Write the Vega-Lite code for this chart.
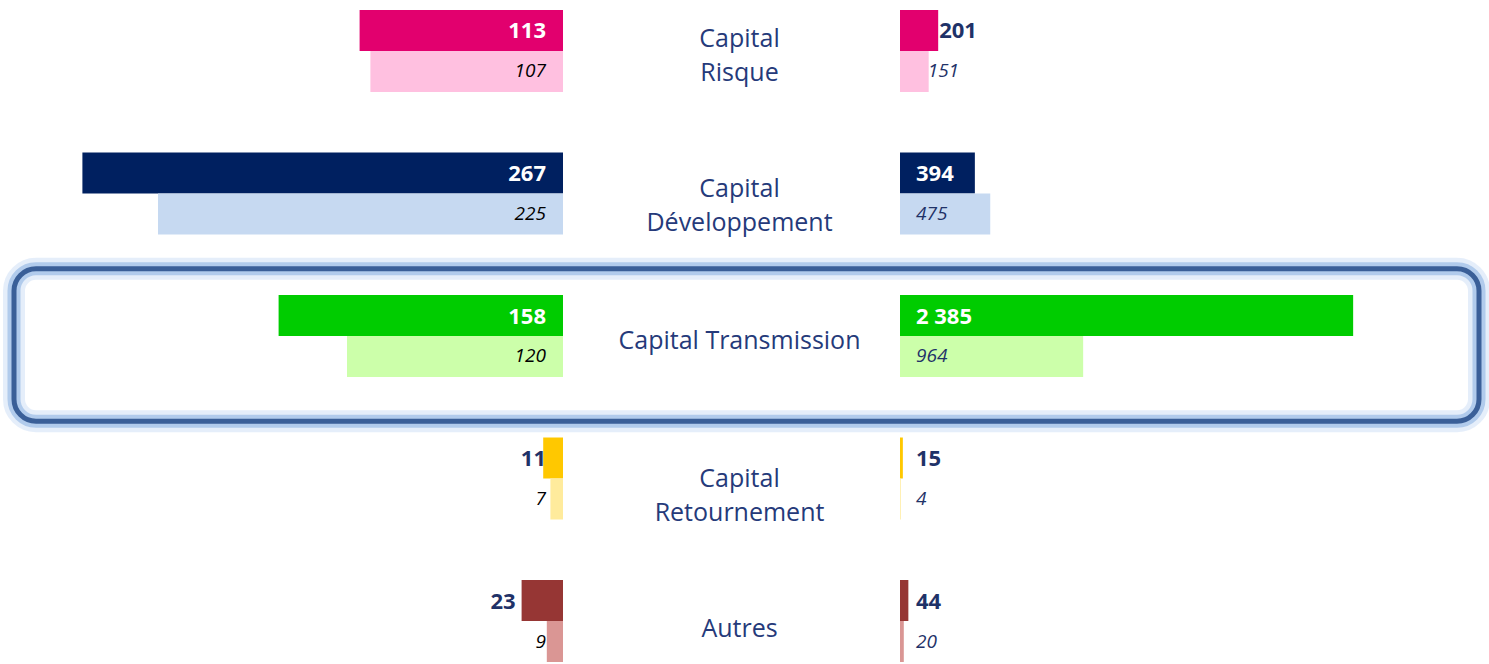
{
  "$schema": "https://vega.github.io/schema/vega-lite/v6.json",
  "width": 1465,
  "height": 652,
  "padding": {"left": 14, "right": 10, "top": 10, "bottom": 2},
  "autosize": {"type": "none"},
  "background": "white",
  "config": {
    "view": {"stroke": null},
    "font": "Open Sans",
    "locale": {"number": {"decimal": ",", "thousands": "\u00a0", "grouping": [3], "currency": ["", "\u00a0€"]}}
  },
  "data": {
    "values": [
      {"cat": "Capital Risque", "period": "N", "left": 113, "right": 201},
      {"cat": "Capital Risque", "period": "N-1", "left": 107, "right": 151},
      {"cat": "Capital Développement", "period": "N", "left": 267, "right": 394},
      {"cat": "Capital Développement", "period": "N-1", "left": 225, "right": 475},
      {"cat": "Capital Transmission", "period": "N", "left": 158, "right": 2385},
      {"cat": "Capital Transmission", "period": "N-1", "left": 120, "right": 964},
      {"cat": "Capital Retournement", "period": "N", "left": 11, "right": 15},
      {"cat": "Capital Retournement", "period": "N-1", "left": 7, "right": 4},
      {"cat": "Autres", "period": "N", "left": 23, "right": 44},
      {"cat": "Autres", "period": "N-1", "left": 9, "right": 20}
    ]
  },
  "encoding": {
    "y": {"field": "cat", "type": "nominal", "sort": ["Capital Risque", "Capital Développement", "Capital Transmission", "Capital Retournement", "Autres"], "axis": null, "scale": {"domain": ["Capital Risque", "Capital Développement", "Capital Transmission", "Capital Retournement", "Autres"], "paddingInner": 0.4246, "paddingOuter": 0}}
  },
  "layer": [
    {
      "transform": [{"filter": "datum.cat === 'Capital Transmission' && datum.period === 'N'"}],
      "mark": {"type": "rect", "height": {"band": 1.86}, "yOffset": 9, "cornerRadius": 22, "filled": false, "stroke": "#A9C8EE", "strokeWidth": 22, "strokeOpacity": 0.3},
      "encoding": {}
    },
    {
      "transform": [{"filter": "datum.cat === 'Capital Transmission' && datum.period === 'N'"}],
      "mark": {"type": "rect", "height": {"band": 1.86}, "yOffset": 9, "cornerRadius": 22, "filled": false, "stroke": "#8DB4E2", "strokeWidth": 13, "strokeOpacity": 0.6},
      "encoding": {}
    },
    {
      "transform": [{"filter": "datum.cat === 'Capital Transmission' && datum.period === 'N'"}],
      "mark": {"type": "rect", "height": {"band": 1.86}, "yOffset": 9, "cornerRadius": 22, "filled": false, "stroke": "#3A5F98", "strokeWidth": 5},
      "encoding": {}
    },
    {
      "transform": [{"filter": "datum.period === 'N'"}],
      "mark": {"type": "bar"},
      "encoding": {
        "yOffset": {"field": "period", "type": "nominal", "sort": ["N", "N-1"], "scale": {"domain": ["N", "N-1"], "paddingInner": 0}},
        "x": {"field": "left", "type": "quantitative", "scale": {"domain": [0, 100], "range": [549, 369]}, "axis": null},
        "x2": {"datum": 0},
        "color": {"field": "cat", "type": "nominal", "legend": null, "scale": {"domain": ["Capital Risque", "Capital Développement", "Capital Transmission", "Capital Retournement", "Autres"], "range": ["#E2006E", "#002060", "#00CC00", "#FFC800", "#963634"]}}
      }
    },
    {
      "transform": [{"filter": "datum.period === 'N-1'"}],
      "mark": {"type": "bar"},
      "encoding": {
        "yOffset": {"field": "period", "type": "nominal", "sort": ["N", "N-1"], "scale": {"domain": ["N", "N-1"], "paddingInner": 0}},
        "x": {"field": "left", "type": "quantitative", "scale": {"domain": [0, 100], "range": [549, 369]}, "axis": null},
        "x2": {"datum": 0},
        "color": {"field": "cat", "type": "nominal", "legend": null, "scale": {"domain": ["Capital Risque", "Capital Développement", "Capital Transmission", "Capital Retournement", "Autres"], "range": ["#FFC0E0", "#C6D9F1", "#CCFFAA", "#FFEB9C", "#DA9694"]}}
      }
    },
    {
      "transform": [{"filter": "datum.period === 'N'"}],
      "mark": {"type": "bar"},
      "encoding": {
        "yOffset": {"field": "period", "type": "nominal", "sort": ["N", "N-1"], "scale": {"domain": ["N", "N-1"], "paddingInner": 0}},
        "x": {"field": "right", "type": "quantitative", "scale": {"domain": [0, 1000], "range": [886, 1076]}, "axis": null},
        "x2": {"datum": 0},
        "color": {"field": "cat", "type": "nominal", "legend": null, "scale": {"domain": ["Capital Risque", "Capital Développement", "Capital Transmission", "Capital Retournement", "Autres"], "range": ["#E2006E", "#002060", "#00CC00", "#FFC800", "#963634"]}}
      }
    },
    {
      "transform": [{"filter": "datum.period === 'N-1'"}],
      "mark": {"type": "bar"},
      "encoding": {
        "yOffset": {"field": "period", "type": "nominal", "sort": ["N", "N-1"], "scale": {"domain": ["N", "N-1"], "paddingInner": 0}},
        "x": {"field": "right", "type": "quantitative", "scale": {"domain": [0, 1000], "range": [886, 1076]}, "axis": null},
        "x2": {"datum": 0},
        "color": {"field": "cat", "type": "nominal", "legend": null, "scale": {"domain": ["Capital Risque", "Capital Développement", "Capital Transmission", "Capital Retournement", "Autres"], "range": ["#FFC0E0", "#C6D9F1", "#CCFFAA", "#FFEB9C", "#DA9694"]}}
      }
    },
    {
      "transform": [{"filter": "datum.period === 'N' && datum.cat !== 'Autres'"}],
      "mark": {"type": "text", "align": "right", "baseline": "middle", "dx": -17, "dy": 1, "fontSize": 22, "fontWeight": "bold"},
      "encoding": {
        "yOffset": {"field": "period", "type": "nominal", "sort": ["N", "N-1"], "scale": {"domain": ["N", "N-1"], "paddingInner": 0}},
        "x": {"datum": 0, "type": "quantitative", "scale": {"domain": [0, 100], "range": [549, 369]}, "axis": null},
        "text": {"field": "left", "type": "quantitative", "format": ",d"},
        "color": {"condition": {"test": "datum.left >= 50", "value": "#FFFFFF"}, "value": "#1F3268"}
      }
    },
    {
      "transform": [{"filter": "datum.period === 'N' && datum.cat === 'Autres'"}],
      "mark": {"type": "text", "align": "right", "baseline": "middle", "dx": -6, "dy": 1, "fontSize": 22, "fontWeight": "bold", "color": "#1F3268"},
      "encoding": {
        "yOffset": {"field": "period", "type": "nominal", "sort": ["N", "N-1"], "scale": {"domain": ["N", "N-1"], "paddingInner": 0}},
        "x": {"field": "left", "type": "quantitative", "scale": {"domain": [0, 100], "range": [549, 369]}, "axis": null},
        "text": {"field": "left", "type": "quantitative", "format": ",d"}
      }
    },
    {
      "transform": [{"filter": "datum.period === 'N-1'"}],
      "mark": {"type": "text", "align": "right", "baseline": "middle", "dx": -17, "fontSize": 19, "fontStyle": "italic", "color": "#000000"},
      "encoding": {
        "yOffset": {"field": "period", "type": "nominal", "sort": ["N", "N-1"], "scale": {"domain": ["N", "N-1"], "paddingInner": 0}},
        "x": {"datum": 0, "type": "quantitative", "scale": {"domain": [0, 100], "range": [549, 369]}, "axis": null},
        "text": {"field": "left", "type": "quantitative", "format": ",d"}
      }
    },
    {
      "transform": [{"filter": "datum.period === 'N' && datum.cat !== 'Capital Risque'"}],
      "mark": {"type": "text", "align": "left", "baseline": "middle", "dx": 16, "dy": 1, "fontSize": 22, "fontWeight": "bold"},
      "encoding": {
        "yOffset": {"field": "period", "type": "nominal", "sort": ["N", "N-1"], "scale": {"domain": ["N", "N-1"], "paddingInner": 0}},
        "x": {"datum": 0, "type": "quantitative", "scale": {"domain": [0, 1000], "range": [886, 1076]}, "axis": null},
        "text": {"field": "right", "type": "quantitative", "format": ",d"},
        "color": {"condition": {"test": "datum.right >= 300", "value": "#FFFFFF"}, "value": "#1F3268"}
      }
    },
    {
      "transform": [{"filter": "datum.period === 'N' && datum.cat === 'Capital Risque'"}],
      "mark": {"type": "text", "align": "left", "baseline": "middle", "dx": 1, "dy": 1, "fontSize": 22, "fontWeight": "bold", "color": "#1F3268"},
      "encoding": {
        "yOffset": {"field": "period", "type": "nominal", "sort": ["N", "N-1"], "scale": {"domain": ["N", "N-1"], "paddingInner": 0}},
        "x": {"field": "right", "type": "quantitative", "scale": {"domain": [0, 1000], "range": [886, 1076]}, "axis": null},
        "text": {"field": "right", "type": "quantitative", "format": ",d"}
      }
    },
    {
      "transform": [{"filter": "datum.period === 'N-1' && datum.cat !== 'Capital Risque'"}],
      "mark": {"type": "text", "align": "left", "baseline": "middle", "dx": 16, "fontSize": 19, "fontStyle": "italic", "color": "#1F3268"},
      "encoding": {
        "yOffset": {"field": "period", "type": "nominal", "sort": ["N", "N-1"], "scale": {"domain": ["N", "N-1"], "paddingInner": 0}},
        "x": {"datum": 0, "type": "quantitative", "scale": {"domain": [0, 1000], "range": [886, 1076]}, "axis": null},
        "text": {"field": "right", "type": "quantitative", "format": ",d"}
      }
    },
    {
      "transform": [{"filter": "datum.period === 'N-1' && datum.cat === 'Capital Risque'"}],
      "mark": {"type": "text", "align": "left", "baseline": "middle", "dx": -1, "fontSize": 19, "fontStyle": "italic", "color": "#1F3268"},
      "encoding": {
        "yOffset": {"field": "period", "type": "nominal", "sort": ["N", "N-1"], "scale": {"domain": ["N", "N-1"], "paddingInner": 0}},
        "x": {"field": "right", "type": "quantitative", "scale": {"domain": [0, 1000], "range": [886, 1076]}, "axis": null},
        "text": {"field": "right", "type": "quantitative", "format": ",d"}
      }
    },
    {
      "transform": [{"filter": "datum.period === 'N' && datum.cat === 'Capital Risque'"}],
      "mark": {"type": "text", "align": "center", "baseline": "middle", "dx": -7, "dy": -12, "fontSize": 25, "lineBreak": " ", "lineHeight": 34, "color": "#253A7A"},
      "encoding": {"text": {"field": "cat", "type": "nominal"}}
    },
    {
      "transform": [{"filter": "datum.period === 'N' && datum.cat === 'Capital Développement'"}],
      "mark": {"type": "text", "align": "center", "baseline": "middle", "dx": -7, "dy": -4, "fontSize": 25, "lineBreak": " ", "lineHeight": 34, "color": "#253A7A"},
      "encoding": {"text": {"field": "cat", "type": "nominal"}}
    },
    {
      "transform": [{"filter": "datum.period === 'N' && datum.cat === 'Capital Transmission'"}],
      "mark": {"type": "text", "align": "center", "baseline": "middle", "dx": -7, "dy": 5, "fontSize": 25, "color": "#253A7A"},
      "encoding": {"text": {"field": "cat", "type": "nominal"}}
    },
    {
      "transform": [{"filter": "datum.period === 'N' && datum.cat === 'Capital Retournement'"}],
      "mark": {"type": "text", "align": "center", "baseline": "middle", "dx": -7, "dy": 0, "fontSize": 25, "lineBreak": " ", "lineHeight": 34, "color": "#253A7A"},
      "encoding": {"text": {"field": "cat", "type": "nominal"}}
    },
    {
      "transform": [{"filter": "datum.period === 'N' && datum.cat === 'Autres'"}],
      "mark": {"type": "text", "align": "center", "baseline": "middle", "dx": -7, "dy": 8, "fontSize": 25, "color": "#253A7A"},
      "encoding": {"text": {"field": "cat", "type": "nominal"}}
    }
  ],
  "resolve": {"scale": {"x": "independent", "color": "independent"}}
}
